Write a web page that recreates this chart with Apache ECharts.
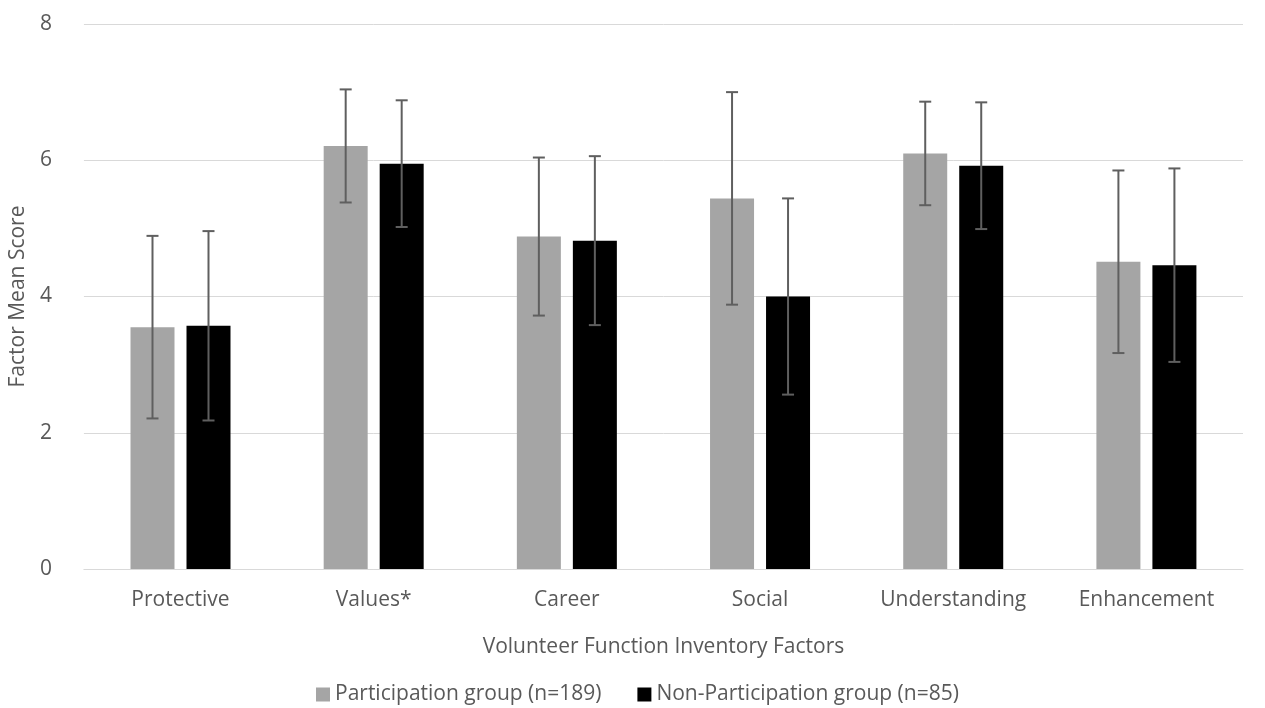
<!DOCTYPE html>
<html>
<head>
<meta charset="utf-8">
<script src="https://cdn.jsdelivr.net/npm/echarts@6/dist/echarts.min.js"></script>
<style>
    html, body { margin: 0; padding: 0; background: #fff; }
    #chart { width: 1265px; height: 708px; }
</style>
</head>
<body>
<div id="chart"></div>
<script>
const categories = ['Protective', 'Values*', 'Career', 'Social', 'Understanding', 'Enhancement']
const participationMean = [3.55, 6.21, 4.88, 5.44, 6.10, 4.51]
const participationSd = [1.34, 0.83, 1.16, 1.56, 0.76, 1.34]
const nonParticipationMean = [3.57, 5.95, 4.82, 4.00, 5.92, 4.46]
const nonParticipationSd = [1.39, 0.93, 1.24, 1.44, 0.93, 1.42]
const yTicks = [0, 2, 4, 6, 8]

const textColor = '#595959'
const font = '"Open Sans", sans-serif'
const fontSize = 21
const barWidth = 44
const barGapPx = 12

const myChart = echarts.init(document.getElementById('chart'))

// error bar drawn at the bar centre; side = -1 (left bar) or +1 (right bar)
function errorBar(side) {
    return function (params, api) {
        let x = api.value(0)
        let lo = api.coord([x, api.value(1)])
        let hi = api.coord([x, api.value(2)])
        let cx = lo[0] + side * (barWidth + barGapPx) / 2
        let cap = 6
        let style = { stroke: '#5f5f5f', lineWidth: 2 }
        return {
            type: 'group',
            children: [
                { type: 'line', shape: { x1: cx, y1: hi[1], x2: cx, y2: lo[1] }, style: style },
                { type: 'line', shape: { x1: cx - cap, y1: hi[1], x2: cx + cap, y2: hi[1] }, style: style },
                { type: 'line', shape: { x1: cx - cap, y1: lo[1], x2: cx + cap, y2: lo[1] }, style: style }
            ]
        }
    }
}

let pErr = participationMean.map((m, i) => [i, m - participationSd[i], m + participationSd[i]])
let nErr = nonParticipationMean.map((m, i) => [i, m - nonParticipationSd[i], m + nonParticipationSd[i]])

let option = {
    animation: false,
    textStyle: { fontFamily: font },
    grid: { left: 80, right: 22, top: 24, bottom: 139 },
    legend: {
        top: 679,
        left: 311,
        itemWidth: 14,
        itemHeight: 14,
        itemGap: 36,
        icon: 'rect',
        data: ['Participation group (n=189)', 'Non-Participation group (n=85)'],
        textStyle: { color: textColor, fontSize: fontSize, fontFamily: font }
    },
    xAxis: {
        type: 'category',
        data: categories,
        name: 'Volunteer Function Inventory Factors',
        nameLocation: 'middle',
        nameGap: 68,
        nameTextStyle: { color: textColor, fontSize: fontSize, fontFamily: font },
        axisLine: { lineStyle: { color: '#d9d9d9', width: 1 } },
        axisTick: { show: false },
        axisLabel: { color: textColor, fontSize: fontSize, margin: 21, fontFamily: font },
        splitLine: { show: false }
    },
    yAxis: {
        type: 'value',
        min: yTicks[0],
        max: yTicks[yTicks.length - 1],
        interval: 2,
        name: 'Factor Mean Score',
        nameLocation: 'middle',
        nameGap: 50,
        nameTextStyle: { color: textColor, fontSize: fontSize, fontFamily: font },
        axisLine: { show: false },
        axisTick: { show: false },
        axisLabel: { color: textColor, fontSize: fontSize, margin: 32, fontFamily: font },
        splitLine: { lineStyle: { color: '#d9d9d9', width: 1 } }
    },
    series: [
        {
            name: 'Participation group (n=189)',
            type: 'bar',
            data: participationMean,
            barWidth: barWidth,
            barGap: (barGapPx / barWidth * 100) + '%',
            itemStyle: { color: '#a5a5a5' }
        },
        {
            name: 'Non-Participation group (n=85)',
            type: 'bar',
            data: nonParticipationMean,
            barWidth: barWidth,
            itemStyle: { color: '#000000' }
        },
        {
            type: 'custom',
            renderItem: errorBar(-1),
            data: pErr,
            encode: { x: 0, y: [1, 2] },
            z: 10
        },
        {
            type: 'custom',
            renderItem: errorBar(1),
            data: nErr,
            encode: { x: 0, y: [1, 2] },
            z: 10
        }
    ]
}
myChart.setOption(option)
</script>
</body>
</html>
